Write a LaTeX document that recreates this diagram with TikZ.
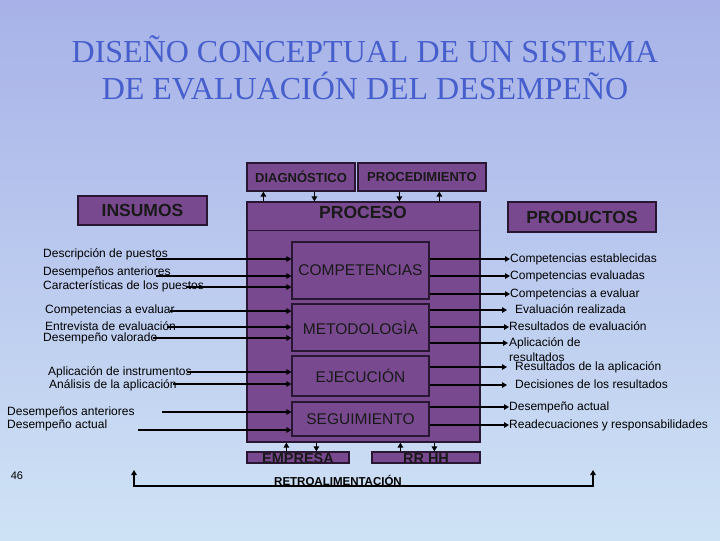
\documentclass[tikz,border=0pt]{standalone}
\usepackage{fontspec}
\setmainfont{Liberation Sans}
\newfontfamily\titlefont{Liberation Serif}
\usetikzlibrary{arrows.meta}
\definecolor{fondoarriba}{RGB}{168,178,232}
\definecolor{fondoabajo}{RGB}{206,226,245}
\definecolor{lila}{RGB}{121,73,143}
\definecolor{borde}{RGB}{40,22,50}
\definecolor{azultit}{RGB}{70,95,205}
\tikzstyle{titulo} = [inner sep=0pt, text=azultit, font=\titlefont\fontsize{32}{34}\selectfont]
\tikzstyle{caja} = [draw=borde, line width=1.2pt, fill=lila, inner sep=0pt, text=black!90]
\tikzstyle{cajatit} = [caja, font=\fontsize{17.5}{19}\selectfont\bfseries]
\tikzstyle{cajachica} = [caja, minimum height=28, font=\fontsize{13}{14}\selectfont\bfseries]
\tikzstyle{cajaint} = [caja, minimum width=137, font=\fontsize{15.5}{17}\selectfont]
\tikzstyle{cajabase} = [caja, minimum height=11, text height=11pt, text depth=0pt, font=\fontsize{14.5}{15}\selectfont\bfseries]
\tikzstyle{txt} = [inner sep=0pt, anchor=west, text height=8.5pt, text depth=2.5pt, font=\fontsize{12}{15}\selectfont]
\tikzstyle{flecha} = [->, line width=1.8pt, black]

\begin{document}
\begin{tikzpicture}[x=1pt,y=-1pt,>={Triangle[length=5pt,width=5.5pt]}]

% fondo en franjas
\foreach \i in {0,...,53} {
  \pgfmathsetmacro\pc{100*\i/53}
  \fill[fondoabajo!\pc!fondoarriba] (0,\i*10) rectangle (720,\i*10+10.5);
}
\useasboundingbox (0,0) rectangle (720,540);

% titulo
\node[titulo] (tit1) at (365,49) {DISEÑO CONCEPTUAL DE UN SISTEMA};
\node[titulo] (tit2) at (365,86) {DE EVALUACIÓN DEL DESEMPEÑO};

% cajas
\node[cajachica, minimum width=108] (diag) at (301,177) {DIAGNÓSTICO};
\node[cajachica, minimum width=128] (proced) at (422,177) {PROCEDIMIENTO};
\node[cajatit, minimum width=129, minimum height=29] (insumos) at (142.5,210.5) {INSUMOS};
\node[cajatit, minimum width=148, minimum height=30] (productos) at (582,217) {PRODUCTOS};
\node[caja, minimum width=233, minimum height=240] (proceso) at (363.5,322) {};
\node[font=\fontsize{17.5}{19}\selectfont\bfseries, text=black!90] (procesotit) at (363,212) {PROCESO};
\draw[borde, line width=1.2pt] ([yshift=-29]proceso.north west) -- ([yshift=-29]proceso.north east);

\node[cajaint, minimum height=57] (comp) at (360.5,270.5) {COMPETENCIAS};
\node[cajaint, minimum height=47] (metod) at (360.5,327.5) {METODOLOGÌA};
\node[cajaint, minimum height=40] (ejec) at (360.5,376) {EJECUCIÓN};
\node[cajaint, minimum height=34] (segui) at (360.5,419) {SEGUIMIENTO};

\node[cajabase, minimum width=102] (empresa) at (298,457.5) {EMPRESA};
\node[cajabase, minimum width=108] (rrhh) at (426,457.5) {RR HH};

% insumos
\node[txt] (e1) at (43,254) {Descripción de puestos};
\node[txt] (e2) at (43,272) {Desempeños anteriores};
\node[txt] (e3) at (43,286) {Características de los puestos};
\node[txt] (e4) at (45,310) {Competencias a evaluar};
\node[txt] (e5) at (45,327) {Entrevista de evaluación};
\node[txt] (e6) at (43,338) {Desempeño valorado};
\node[txt] (e7) at (48,372) {Aplicación de instrumentos};
\node[txt] (e8) at (49,385) {Análisis de la aplicación};
\node[txt] (e9) at (7,412) {Desempeños anteriores};
\node[txt] (e10) at (7,425) {Desempeño actual};

\coordinate (s1) at (156,259);
\coordinate (s2) at (156,276);
\coordinate (s3) at (186,287);
\coordinate (s4) at (170,311);
\coordinate (s5) at (167,327);
\coordinate (s6) at (153,338);
\coordinate (s7) at (187,372);
\coordinate (s8) at (173,384);
\coordinate (s9) at (162,412);
\coordinate (s10) at (138,430);

% productos
\node[txt] (p1) at (510,259) {Competencias establecidas};
\node[txt] (p2) at (510,276) {Competencias evaluadas};
\node[txt] (p3) at (510,294) {Competencias a evaluar};
\node[txt] (p4) at (515,310) {Evaluación realizada};
\node[txt] (p5) at (509,327) {Resultados de evaluación};
\node[inner sep=0pt, anchor=north west, align=left, font=\fontsize{12}{15}\selectfont] (p6) at (509,337) {Aplicación de\\resultados};
\coordinate (p6a) at (508,343);
\node[txt] (p7) at (515,367) {Resultados de la aplicación};
\node[txt] (p8) at (515,385) {Decisiones de los resultados};
\node[txt] (p9) at (509,407) {Desempeño actual};
\node[txt] (p10) at (509,425) {Readecuaciones y responsabilidades};

% retroalimentacion
\node[font=\fontsize{11.5}{12}\selectfont\bfseries, inner sep=0pt] (retro) at (338,480) {RETROALIMENTACIÓN};
\node[font=\fontsize{11}{12}\selectfont, inner sep=0pt] (num) at (17,476) {46};
\coordinate (retroizq) at (134,470);
\coordinate (retroizqb) at (134,486);
\coordinate (retroderb) at (593,486);
\coordinate (retroder) at (593,470);
\draw[<->, line width=1.3pt] (retroizq) -- (retroizqb) -- (retroderb) -- (retroder);

  \path[flecha]
    ([xshift=17]proceso.north west) edge ([xshift=17]diag.south west)
    ([xshift=68]diag.south west) edge ([xshift=68]proceso.north west)
    ([xshift=42]proced.south west) edge ([xshift=153]proceso.north west)
    ([xshift=193]proceso.north west) edge ([xshift=82]proced.south west)
    ([xshift=40]empresa.north west) edge ([xshift=40]proceso.south west)
    ([xshift=70]proceso.south west) edge ([xshift=70]empresa.north west)
    ([xshift=29]rrhh.north west) edge ([xshift=154]proceso.south west)
    ([xshift=188]proceso.south west) edge ([xshift=63]rrhh.north west)

    (s1) edge (s1 -| comp.west)
    (s2) edge (s2 -| comp.west)
    (s3) edge (s3 -| comp.west)
    (s4) edge (s4 -| metod.west)
    (s5) edge (s5 -| metod.west)
    (s6) edge (s6 -| metod.west)
    (s7) edge (s7 -| ejec.west)
    (s8) edge (s8 -| ejec.west)
    (s9) edge (s9 -| segui.west)
    (s10) edge (s10 -| segui.west)

    (comp.east |- p1) edge (p1.west)
    (comp.east |- p2) edge (p2.west)
    (comp.east |- p3) edge (p3.west)
    (metod.east |- p4) edge ([xshift=-8]p4.west)
    (metod.east |- p5) edge (p5.west)
    (metod.east |- p6a) edge (p6a)
    (ejec.east |- p7) edge ([xshift=-8]p7.west)
    (ejec.east |- p8) edge ([xshift=-8]p8.west)
    (segui.east |- p9) edge (p9.west)
    (segui.east |- p10) edge (p10.west);

\end{tikzpicture}
\end{document}
